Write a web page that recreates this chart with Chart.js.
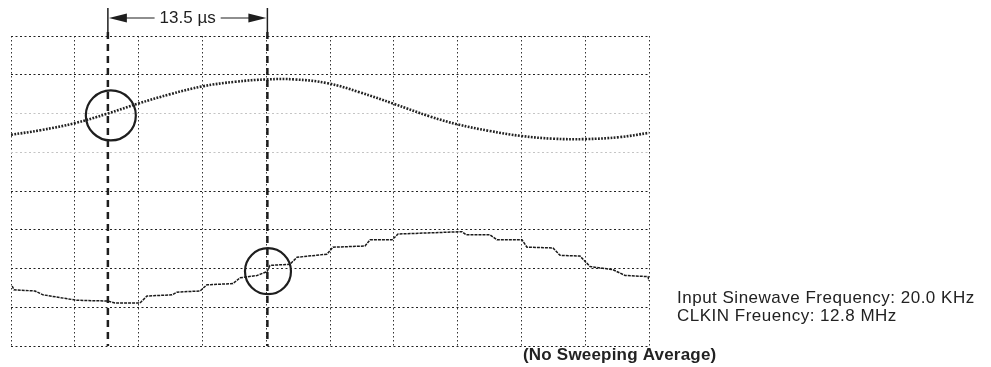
<!DOCTYPE html>
<html>
<head>
<meta charset="utf-8">
<script src="https://cdn.jsdelivr.net/npm/chart.js@4.4.0/dist/chart.umd.min.js"></script>
<style>
  html, body { margin: 0; padding: 0; background: #fff; }
  #wrap { position: relative; width: 991px; height: 367px; }
</style>
</head>
<body>
<div id="wrap"><canvas id="scope"></canvas></div>
<script>
// time in microseconds, level in screen divisions (0 = bottom graticule line)
var sineTimes = [0, 2.5, 5.4, 8.2, 10.8, 13.5, 16.2, 19.0, 21.7, 24.0, 26.8, 29.5, 32.4, 35.5, 37.8, 40.5, 43.2, 45.9, 48.6, 51.5, 54.0];
var sineLevels = [5.45, 5.57, 5.75, 6.0, 6.26, 6.5, 6.7, 6.82, 6.88, 6.88, 6.78, 6.55, 6.25, 5.92, 5.72, 5.55, 5.42, 5.35, 5.34, 5.39, 5.5];

var stepTimes = [0.1, 0.25, 2.03, 2.71, 5.59, 8.21, 8.8, 10.92, 11.51, 13.63, 14.05, 16.0, 16.59, 18.79, 19.38, 20.82, 21.67, 21.92, 23.61, 24.21, 26.75, 27.25, 29.96, 30.39, 32.25, 32.76, 38.17, 38.51, 40.54, 41.13, 43.25, 43.67, 45.87, 46.47, 48.16, 49.01, 50.95, 51.97, 53.92, 54.0];
var stepLevels = [1.55, 1.45, 1.42, 1.32, 1.18, 1.16, 1.11, 1.11, 1.29, 1.32, 1.39, 1.42, 1.58, 1.61, 1.76, 1.82, 1.92, 2.08, 2.11, 2.29, 2.37, 2.55, 2.58, 2.74, 2.74, 2.89, 2.95, 2.87, 2.87, 2.74, 2.74, 2.55, 2.53, 2.34, 2.32, 2.05, 1.97, 1.82, 1.79, 1.68];

var gridTimes = [0, 5.4, 10.8, 16.2, 21.6, 27, 32.4, 37.8, 43.2, 48.6, 54];
var gridLevels = [0, 1, 2, 3, 4, 5, 6, 7, 8];
var faintLevels = [5, 6];

var cursorTimes = [8.2, 21.7];
var cursorLabel = "13.5 µs";
var circleTimes = [8.45, 21.75];
var circleLevels = [5.95, 1.93];
var circleSizes = [25, 23];

var noteLines = ["Input Sinewave Frequency: 20.0 KHz", "CLKIN Freuency: 12.8 MHz"];
var footNote = "(No Sweeping Average)";

function pairs(xs, ys) {
  return xs.map(function (x, i) { return { x: x, y: ys[i] }; });
}

var ink = "#1e1e1e";

// cursors, the bracket with the time label and the side notes
var scopeMarks = {
  id: "scopeMarks",
  afterDatasetsDraw: function (chart) {
    var c = chart.ctx;
    var xs = chart.scales.x;
    var area = chart.chartArea;
    var x1 = xs.getPixelForValue(cursorTimes[0]);
    var x2 = xs.getPixelForValue(cursorTimes[1]);
    var barY = 18;

    c.save();
    c.strokeStyle = ink;
    c.fillStyle = ink;

    // dashed cursor lines
    c.lineWidth = 2.5;
    c.setLineDash([7, 5]);
    [x1, x2].forEach(function (x) {
      c.beginPath();
      c.moveTo(x, 32);
      c.lineTo(x, area.bottom);
      c.stroke();
    });

    // bracket end bars
    c.setLineDash([]);
    c.lineWidth = 1.5;
    [x1, x2].forEach(function (x) {
      c.beginPath();
      c.moveTo(x, 8);
      c.lineTo(x, 32);
      c.stroke();
    });

    // label and arrows
    c.font = "17px 'Liberation Sans', Arial, sans-serif";
    c.textBaseline = "middle";
    c.textAlign = "center";
    var mid = (x1 + x2) / 2;
    var tw = c.measureText(cursorLabel).width;
    c.fillText(cursorLabel, mid, barY);

    c.lineWidth = 1.2;
    c.beginPath();
    c.moveTo(x1 + 14, barY);
    c.lineTo(mid - tw / 2 - 5, barY);
    c.moveTo(mid + tw / 2 + 5, barY);
    c.lineTo(x2 - 14, barY);
    c.stroke();

    c.beginPath();
    c.moveTo(x1 + 1, barY);
    c.lineTo(x1 + 19, barY - 4.5);
    c.lineTo(x1 + 19, barY + 4.5);
    c.closePath();
    c.moveTo(x2 - 1, barY);
    c.lineTo(x2 - 19, barY - 4.5);
    c.lineTo(x2 - 19, barY + 4.5);
    c.closePath();
    c.fill();

    // notes on the right and under the screen
    c.textAlign = "left";
    c.textBaseline = "alphabetic";
    c.fillStyle = "#222";
    if ("letterSpacing" in c) c.letterSpacing = "0.5px";
    c.fillText(noteLines[0], 677, 303);
    c.fillText(noteLines[1], 677, 321);
    if ("letterSpacing" in c) c.letterSpacing = "0.2px";
    c.font = "bold 17px 'Liberation Sans', Arial, sans-serif";
    c.fillText(footNote, 523, 360);
    c.restore();
  }
};

new Chart(document.getElementById("scope"), {
  type: "line",
  data: {
    datasets: [
      {
        label: "Input",
        data: pairs(sineTimes, sineLevels),
        borderColor: "#222",
        borderWidth: 2.6,
        borderDash: [1.8, 1.4],
        borderCapStyle: "butt",
        tension: 0.4,
        pointRadius: 0,
        fill: false
      },
      {
        label: "Output",
        data: pairs(stepTimes, stepLevels),
        borderColor: "#1a1a1a",
        borderWidth: 1.5,
        borderDash: [3, 1],
        tension: 0,
        pointRadius: 0,
        fill: false
      },
      {
        label: "Crossings",
        data: pairs(circleTimes, circleLevels),
        showLine: false,
        pointStyle: "circle",
        pointRadius: circleSizes,
        pointBorderWidth: 2.2,
        pointBorderColor: ink,
        pointBackgroundColor: "rgba(0,0,0,0)",
        clip: false
      }
    ]
  },
  options: {
    responsive: true,
    maintainAspectRatio: false,
    animation: false,
    events: [],
    layout: {
      autoPadding: false,
      padding: { left: 11, top: 36, right: 342, bottom: 21 }
    },
    plugins: {
      legend: { display: false },
      tooltip: { enabled: false }
    },
    scales: {
      x: {
        type: "linear",
        min: 0,
        max: 54,
        afterBuildTicks: function (scale) {
          scale.ticks = gridTimes.map(function (v) { return { value: v }; });
        },
        ticks: { display: false },
        grid: { color: "#333", lineWidth: 1, drawTicks: false, tickLength: 0 },
        border: { display: false, dash: [1.5, 2.5] }
      },
      y: {
        type: "linear",
        min: 0,
        max: 8,
        afterBuildTicks: function (scale) {
          scale.ticks = gridLevels.map(function (v) { return { value: v }; });
        },
        ticks: { display: false },
        grid: {
          color: function (ctx) {
            return ctx.tick && faintLevels.indexOf(ctx.tick.value) >= 0 ? "#c4c4c4" : "#222";
          },
          lineWidth: 1,
          drawTicks: false,
          tickLength: 0
        },
        border: { display: false, dash: [2, 2.5] }
      }
    }
  },
  plugins: [scopeMarks]
});
</script>
</body>
</html>
